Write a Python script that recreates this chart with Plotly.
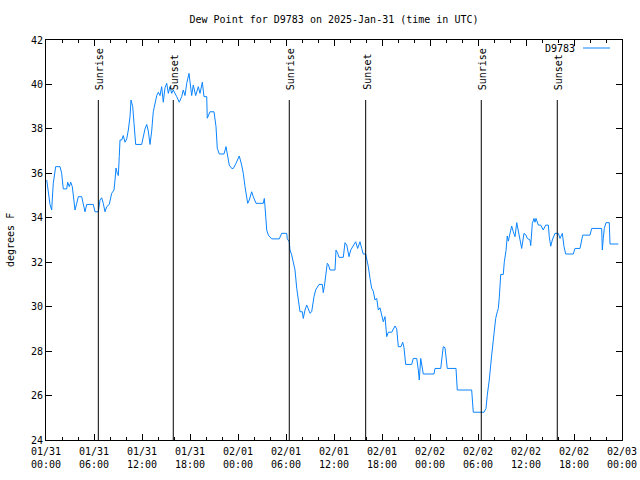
import pandas as pd
import plotly.graph_objects as go

START = pd.Timestamp("2025-01-31 00:00")

# hours since 2025-01-31 00:00 UTC
hours = [0.09, 0.375, 0.5, 0.71, 0.91, 1.21, 1.75, 1.96, 2.16, 2.59, 2.71, 2.91, 3.09, 3.29, 3.41,
         3.625, 3.84, 4.04, 4.46, 4.66, 4.875, 5.09, 5.91, 6.125, 6.54, 6.75, 6.96, 7.16, 7.375,
         7.59, 7.91, 8.21, 8.5, 8.625, 8.75, 8.91, 9.04, 9.16, 9.25, 9.46, 9.66, 9.875, 10.09,
         10.29, 10.5, 10.625, 10.84, 11.0, 11.21, 11.96, 12.16, 12.375, 12.59, 12.79, 13.0, 13.21,
         13.41, 13.625, 13.84, 14.04, 14.25, 14.46, 14.66, 14.875, 15.09, 15.29, 15.5, 15.71,
         15.91, 16.34, 16.66, 16.96, 17.16, 17.375, 17.59, 17.875, 18.09, 18.21, 18.41, 18.71,
         19.04, 19.25, 19.54, 19.75, 20.09, 20.16, 20.5, 21.0, 21.25, 21.41, 21.66, 22.25, 22.5,
         22.66, 22.91, 23.21, 23.41, 23.75, 24.16, 24.46, 24.66, 24.875, 25.09, 25.21, 25.41,
         25.71, 25.91, 26.25, 27.16, 27.29, 27.375, 27.59, 27.79, 28.21, 29.16, 29.46, 30.09,
         30.16, 30.41, 30.5, 30.71, 30.91, 31.125, 31.34, 31.54, 31.75, 32.04, 32.16, 32.375,
         32.59, 32.79, 33.0, 33.21, 33.34, 33.5, 33.71, 33.96, 34.125, 34.54, 34.66, 34.79,
         34.96, 35.16, 35.29, 35.5, 36.125, 36.25, 36.46, 36.625, 37.16, 37.375, 37.59, 37.875,
         38.09, 38.34, 38.71, 38.96, 39.25, 39.46, 39.66, 39.96, 40.09, 40.29, 40.5, 40.71,
         40.91, 41.125, 41.34, 41.54, 41.75, 41.96, 42.16, 42.375, 42.59, 42.79, 43.21, 43.625,
         43.84, 44.04, 44.375, 44.59, 44.75, 44.96, 45.71, 45.91, 46.34, 46.54, 46.66, 46.84,
         46.96, 47.16, 48.5, 48.625, 49.34, 49.54, 49.66, 49.875, 50.09, 50.16, 51.25, 51.41,
         53.21, 53.34, 53.41, 54.75, 55.0, 55.16, 55.41, 55.71, 56.0, 56.21, 56.41, 56.54,
         56.66, 56.75, 56.84, 57.16, 57.29, 57.5, 57.66, 57.79, 58.0, 58.21, 58.41, 58.625,
         58.84, 59.04, 59.25, 59.46, 59.75, 60.0, 60.16, 60.5, 60.59, 60.79, 61.0, 61.125,
         61.25, 61.54, 61.84, 62.16, 62.46, 62.79, 62.91, 63.09, 63.29, 63.5, 63.625, 64.04,
         64.25, 64.54, 64.75, 64.96, 65.91, 66.125, 66.75, 66.96, 67.09, 68.0, 68.21, 69.46,
         69.54, 69.66, 69.79, 70.0, 70.41, 70.5, 71.54]

dewpoint = [35.7, 34.95, 34.6, 34.35, 35.55, 36.3, 36.3, 36.0, 35.3, 35.3, 35.6, 35.4, 35.6, 35.4, 35.1,
            34.35, 34.65, 34.95, 34.95, 34.65, 34.27, 34.6, 34.6, 34.27, 34.27, 34.8, 34.9, 34.65, 34.27,
            34.5, 34.6, 35.1, 35.25, 35.7, 36.24, 36.0, 35.9, 36.75, 37.5, 37.5, 37.7, 37.4, 37.55,
            37.95, 38.55, 39.3, 39.0, 38.25, 37.3, 37.3, 37.7, 38.0, 38.2, 37.9, 37.3, 37.9,
            38.77, 39.2, 39.5, 39.65, 39.5, 39.9, 39.2, 39.85, 40.05, 39.6, 39.9, 39.6,
            39.75, 39.45, 39.2, 39.45, 39.75, 39.5, 40.05, 40.5, 39.75, 39.5, 39.97, 39.5,
            39.9, 39.6, 40.1, 39.45, 39.45, 38.48, 38.77, 38.77, 38.1, 37.13, 36.87, 36.87, 37.2,
            36.8, 36.37, 36.22, 36.22, 36.45, 36.78, 36.37, 36.0, 35.4, 34.95, 34.65, 34.8,
            35.17, 34.95, 34.65, 34.65, 34.87, 34.5, 33.45, 33.22, 33.05, 33.05, 33.3, 33.3,
            33.05, 32.92, 32.55, 32.33, 32.02, 31.65, 30.83, 30.3, 29.77, 29.77, 29.47, 29.85,
            30.07, 29.9, 29.7, 29.77, 30.15, 30.45, 30.75, 30.87, 31.0, 31.0, 30.63, 30.9,
            31.35, 31.95, 31.9, 31.65, 31.65, 32.55, 32.4, 32.22, 32.22, 32.88, 32.77, 32.25,
            32.55, 32.7, 32.92, 32.62, 32.92, 32.62, 32.37, 32.37, 32.17, 31.8, 31.27, 30.83,
            30.7, 30.3, 30.37, 29.85, 29.95, 29.62, 29.32, 29.55, 28.65, 28.85, 28.85, 29.13,
            29.0, 28.2, 28.2, 28.4, 28.15, 27.4, 27.4, 27.67, 27.67, 27.15, 26.7, 27.67,
            27.3, 26.97, 26.97, 27.22, 27.22, 27.75, 28.2, 28.15, 27.37, 27.22, 27.22, 26.25,
            26.25, 25.5, 25.25, 25.25, 25.42, 26.02, 26.7, 27.82, 28.95, 29.47, 29.77, 29.92,
            30.4, 31.08, 31.45, 31.45, 32.02, 32.52, 33.18, 32.95, 33.37, 33.63, 33.37, 33.15,
            33.78, 33.45, 33.07, 32.62, 33.3, 33.22, 33.07, 33.0, 32.75, 33.75, 33.97, 33.8,
            33.97, 33.67, 33.67, 33.45, 33.67, 33.67, 33.15, 32.72, 33.0, 33.22, 33.3, 33.3,
            33.07, 33.3, 32.7, 32.37, 32.37, 32.62, 32.62, 33.0, 33.22, 33.22, 33.52, 33.52,
            32.55, 33.07, 33.52, 33.78, 33.78, 32.82, 32.82]

event_hours = [6.54, 15.91, 30.41, 39.96, 54.41, 63.91]
event_labels = ["Sunrise", "Sunset", "Sunrise", "Sunset", "Sunrise", "Sunset"]

times = [START + pd.Timedelta(hours=h) for h in hours]
event_times = [START + pd.Timedelta(hours=h) for h in event_hours]

FONT = "DejaVu Sans Mono"
LINE_COLOR = "#0A84FF"

fig = go.Figure()
fig.add_trace(go.Scatter(x=times, y=dewpoint, mode="lines",
                         line=dict(color=LINE_COLOR, width=1), name="D9783",
                         showlegend=False))

shapes = []
annotations = []
for t, lab in zip(event_times, event_labels):
    shapes.append(dict(type="line", xref="x", yref="paper", x0=t, x1=t, y0=0, y1=0.85,
                       line=dict(color="black", width=1)))
    annotations.append(dict(x=t, xref="x", y=0.87, yref="paper", text=lab, textangle=-90,
                            showarrow=False, xanchor="center", yanchor="bottom",
                            xshift=1, font=dict(family=FONT, size=10, color="black")))

# legend (gnuplot style: text then sample line)
annotations.append(dict(x=(577 - 46) / 576, xref="paper", y=0.98, yref="paper", text="D9783",
                        showarrow=False, xanchor="right", yanchor="middle",
                        font=dict(family=FONT, size=10, color="black")))
shapes.append(dict(type="line", xref="paper", yref="paper", x0=(583 - 46) / 576,
                   x1=(610 - 46) / 576, y0=0.98, y1=0.98,
                   line=dict(color=LINE_COLOR, width=1)))

# y axis label
annotations.append(dict(x=(10 - 46) / 576, xref="paper", y=0.5, yref="paper", text="degrees F",
                        textangle=-90, showarrow=False, xanchor="center",
                        font=dict(family=FONT, size=10, color="black")))

fig.update_layout(
    width=640, height=480,
    margin=dict(l=46, r=18, t=40, b=40, autoexpand=False),
    paper_bgcolor="white", plot_bgcolor="white",
    font=dict(family=FONT, size=10, color="black"),
    title=dict(text="Dew Point for D9783 on 2025-Jan-31 (time in UTC)", x=334 / 640,
               xanchor="center", y=1 - 19 / 480, yanchor="middle", yref="container",
               font=dict(family=FONT, size=10, color="black")),
    shapes=shapes, annotations=annotations, showlegend=False,
)

fig.update_xaxes(
    range=[START, START + pd.Timedelta(hours=72)],
    tickmode="linear", tick0=START, dtick=6 * 3600 * 1000,
    tickformat="%m/%d<br>%H:%M", automargin=False, ticklabelstandoff=2,
    showline=True, linecolor="black", linewidth=1, mirror="allticks",
    ticks="inside", ticklen=6, tickcolor="black", tickwidth=1,
    showgrid=False, zeroline=False,
    minor=dict(dtick=2 * 3600 * 1000, tick0=START, ticks="inside", ticklen=3,
               tickcolor="black", showgrid=False),
    tickfont=dict(family=FONT, size=10, color="black"),
)
fig.update_yaxes(
    range=[24, 42], tickmode="linear", tick0=24, dtick=2, automargin=False,
    showline=True, linecolor="black", linewidth=1, mirror="allticks",
    ticks="inside", ticklen=6, tickcolor="black", tickwidth=1,
    showgrid=False, zeroline=False,
    tickfont=dict(family=FONT, size=10, color="black"),
)

fig.write_html("out.html")
